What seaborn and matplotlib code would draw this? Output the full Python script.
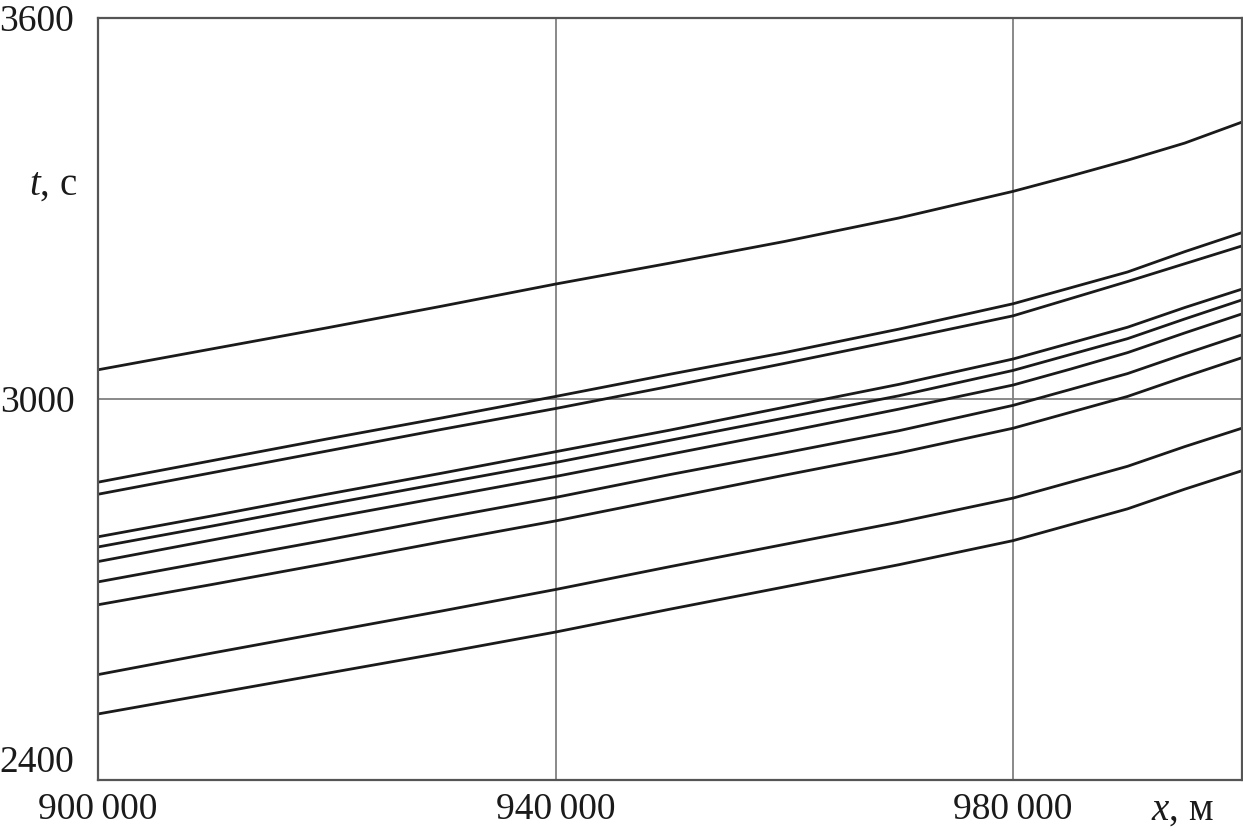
import numpy as np
import pandas as pd
import matplotlib
matplotlib.use('Agg')
import matplotlib.pyplot as plt
import seaborn as sns

# distance along the path, m
x_m = [900000, 910000, 920000, 930000, 940000, 950000, 960000,
       970000, 980000, 985000, 990000, 995000, 1000000]

# travel time curves, s (top to bottom)
t_curve_1 = [3046, 3079, 3112, 3146, 3181, 3214, 3248, 3285, 3327, 3351, 3376, 3403, 3436]
t_curve_2 = [2869, 2903, 2937, 2970, 3004, 3039, 3073, 3110, 3150, 3175, 3200, 3232, 3262]
t_curve_3 = [2850, 2884, 2918, 2952, 2985, 3020, 3056, 3093, 3131, 3158, 3185, 3213, 3241]
t_curve_4 = [2783, 2816, 2850, 2883, 2917, 2951, 2987, 3023, 3063, 3088, 3113, 3144, 3173]
t_curve_5 = [2767, 2800, 2834, 2867, 2900, 2935, 2970, 3005, 3045, 3070, 3095, 3126, 3156]
t_curve_6 = [2744, 2778, 2812, 2845, 2878, 2913, 2948, 2984, 3022, 3047, 3073, 3104, 3134]
t_curve_7 = [2712, 2745, 2778, 2812, 2845, 2881, 2915, 2950, 2990, 3015, 3040, 3071, 3101]
t_curve_8 = [2676, 2708, 2741, 2775, 2808, 2844, 2880, 2915, 2954, 2979, 3004, 3035, 3065]
t_curve_9 = [2566, 2600, 2633, 2666, 2700, 2736, 2771, 2806, 2844, 2869, 2894, 2925, 2954]
t_curve_10 = [2504, 2536, 2568, 2600, 2633, 2669, 2704, 2739, 2777, 2802, 2827, 2858, 2887]

curves = [t_curve_1, t_curve_2, t_curve_3, t_curve_4, t_curve_5,
          t_curve_6, t_curve_7, t_curve_8, t_curve_9, t_curve_10]

x_ticks = [900000, 940000, 980000]
x_tick_labels = ['900\u2009000', '940\u2009000', '980\u2009000']
y_ticks = [2400, 3000, 3600]
y_tick_labels = ['2400', '3000', '3600']

sns.set_theme(style='white')
plt.rcParams['font.family'] = ['Liberation Serif', 'DejaVu Serif']
plt.rcParams['mathtext.fontset'] = 'custom'
plt.rcParams['mathtext.rm'] = 'Liberation Serif'
plt.rcParams['mathtext.it'] = 'Liberation Serif:italic'

df = pd.concat([pd.DataFrame({'x': x_m, 't': t, 'curve': i})
                for i, t in enumerate(curves)], ignore_index=True)

fig = plt.figure(figsize=(12.43, 8.33), dpi=100)
ax = fig.add_axes([0.0788, 0.0636, 0.9203, 0.9148])

sns.lineplot(data=df, x='x', y='t', units='curve', estimator=None,
             color='#1a1a1a', linewidth=2.0, ax=ax, legend=False)

ax.set_xlim(900000, 1000000)
ax.set_ylim(2400, 3600)
ax.set_xticks(x_ticks)
ax.set_xticklabels(x_tick_labels)
ax.set_yticks(y_ticks)
ax.set_yticklabels(y_tick_labels)
ax.tick_params(axis='both', length=0, colors='#1a1a1a')
ax.tick_params(axis='x', labelsize=27, pad=9)
ax.tick_params(axis='y', labelsize=27, pad=17)
ax.get_yticklabels()[0].set_va('bottom')

ax.grid(True, color='#808080', linewidth=1.3)
for s in ax.spines.values():
    s.set_color('#555555')
    s.set_linewidth(1.6)

ax.set_xlabel('')
ax.set_ylabel('')
fig.text(0.062, 0.778, r'$t$, с', fontsize=28, ha='right', va='center', color='#1a1a1a')
fig.text(0.951, 0.028, r'$x$, м', fontsize=28, ha='center', va='center', color='#1a1a1a')

plt.savefig('out.png', dpi=100)
plt.close()
